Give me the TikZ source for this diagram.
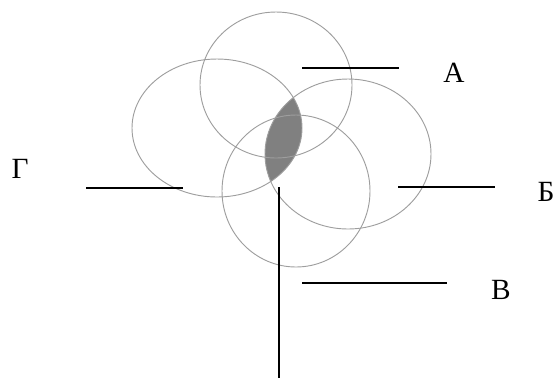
\documentclass[tikz,border=0pt]{standalone}
\usepackage{fontspec}
\setmainfont{Liberation Serif}
\definecolor{ringgray}{HTML}{9E9E9E}
\definecolor{lensgray}{HTML}{808080}

\begin{document}
\begin{tikzpicture}[x=0.75pt,y=-0.75pt]
\tikzset{ring/.style={draw=ringgray,line width=0.7pt},
  lead/.style={line width=1.4pt},
  lbl/.style={font=\fontsize{22}{26}\selectfont,inner sep=0pt}}
\useasboundingbox (0,0) rectangle (556,380);
% common part of the left and right circles
\begin{scope}
\clip (217,128) ellipse [x radius=85,y radius=69];
\fill[lensgray] (348,154) ellipse [x radius=83,y radius=75];
\end{scope}
\draw[ring] (276,85) ellipse [x radius=76,y radius=73];
\draw[ring] (217,128) ellipse [x radius=85,y radius=69];
\draw[ring] (348,154) ellipse [x radius=83,y radius=75];
\draw[ring] (296,191) ellipse [x radius=74,y radius=76];
\node[lbl] (a) at (454,73) {А};
\node[lbl] (b) at (546,192) {Б};
\node[lbl] (v) at (501,290) {В};
\node[lbl] (g) at (20,169) {Г};
\coordinate (a1) at (302,68);  \coordinate (a2) at (399,68);
\coordinate (b1) at (398,187); \coordinate (b2) at (495,187);
\coordinate (v1) at (302,283); \coordinate (v2) at (447,283);
\coordinate (g1) at (86,188);  \coordinate (g2) at (183,188);
\coordinate (s1) at (279,187); \coordinate (s2) at (279,378);
\draw[lead] (a1)--(a2);
\draw[lead] (b1)--(b2);
\draw[lead] (v1)--(v2);
\draw[lead] (g1)--(g2);
\draw[lead] (s1)--(s2);
\end{tikzpicture}
\end{document}
